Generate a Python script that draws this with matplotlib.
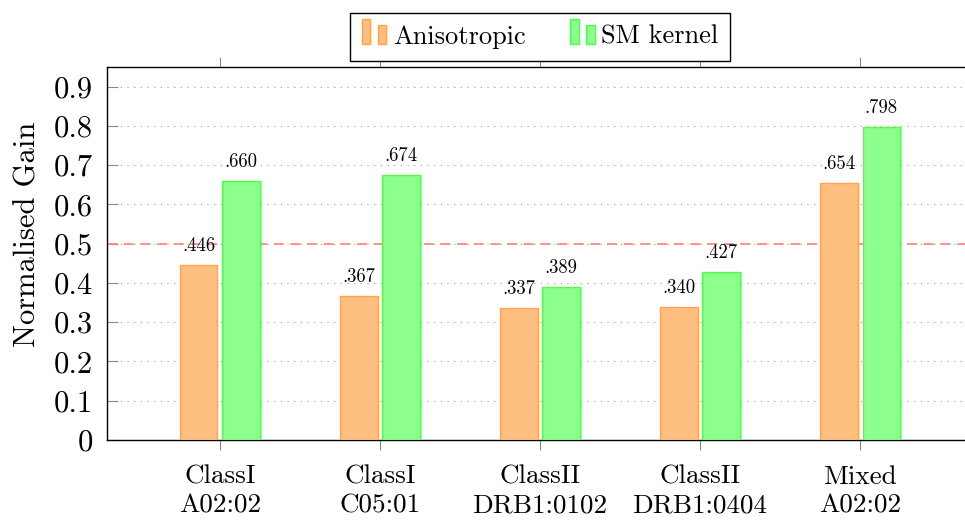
import matplotlib
matplotlib.use("Agg")
import matplotlib.pyplot as plt
import numpy as np
from matplotlib.container import BarContainer
from matplotlib.legend_handler import HandlerBase
from matplotlib.patches import Rectangle

plt.rcParams["font.family"] = "serif"
plt.rcParams["font.serif"] = ["cmr10"]
plt.rcParams["mathtext.fontset"] = "cm"
plt.rcParams["axes.formatter.use_mathtext"] = True

categories = ["ClassI\nA02:02", "ClassI\nC05:01", "ClassII\nDRB1:0102",
              "ClassII\nDRB1:0404", "Mixed\nA02:02"]
anisotropic = [0.446, 0.367, 0.337, 0.340, 0.654]
sm_kernel = [0.660, 0.674, 0.389, 0.427, 0.798]
yticks = [0, 0.1, 0.2, 0.3, 0.4, 0.5, 0.6, 0.7, 0.8, 0.9]
threshold = 0.5

orange_fc, orange_ec = "#ffbf80", "#ffa54f"
green_fc, green_ec = "#8cff8c", "#4dff4d"


class TwoBars(HandlerBase):
    # pgfplots-style ybar legend image: a tall bar and a short bar
    def create_artists(self, legend, orig_handle, xdescent, ydescent,
                       width, height, fontsize, trans):
        p = orig_handle.patches[0]
        fc, ec = p.get_facecolor(), p.get_edgecolor()
        w = width * 0.35
        x0, y0 = -xdescent, -ydescent
        r1 = Rectangle((x0, y0), w, height * 1.35, facecolor=fc,
                       edgecolor=ec, lw=1, transform=trans)
        r2 = Rectangle((x0 + width * 0.66, y0), w, height, facecolor=fc,
                       edgecolor=ec, lw=1, transform=trans)
        return [r1, r2]


fig = plt.figure(figsize=(9.65, 5.22), dpi=100)
ax = fig.add_axes([107 / 965, 1 - 440 / 522, 866 / 965, 373 / 522])

x = np.arange(len(categories))
off, bw = 0.133, 0.235
b1 = ax.bar(x - off, anisotropic, bw, color=orange_fc, edgecolor=orange_ec,
            lw=1, zorder=3, label="Anisotropic")
b2 = ax.bar(x + off, sm_kernel, bw, color=green_fc, edgecolor=green_ec,
            lw=1, zorder=3, label="SM kernel")

for bars, vals in ((b1, anisotropic), (b2, sm_kernel)):
    for rect, v in zip(bars, vals):
        ax.annotate(f"{v:.3f}".lstrip("0"),
                    (rect.get_x() + rect.get_width() / 2, v),
                    xytext=(0, 10), textcoords="offset points",
                    ha="center", va="baseline", fontsize=13.5, zorder=4)

ax.axhline(threshold, color="#ff7f7f", lw=1.2, dashes=(6, 4), zorder=1)

ax.set_xlim(-0.706, 4.706)
ax.set_ylim(0, 0.95)
ax.set_yticks(yticks)
ax.set_yticklabels(["0"] + [f"{t:.1f}" for t in yticks[1:]])
ax.set_xticks(x)
ax.set_xticklabels(categories, linespacing=1.25)
ax.yaxis.grid(True, color="#999999", lw=0.8, dashes=(1, 5), zorder=0)
ax.set_axisbelow(True)

ax.tick_params(axis="y", direction="in", length=8, color="#888888",
               labelsize=22, pad=10)
ax.tick_params(axis="x", direction="out", length=7, color="#888888",
               labelsize=19.5, pad=11, top=True)
ax.set_ylabel("Normalised Gain", fontsize=22)
ax.yaxis.set_label_coords(-0.076, 0.55)
for s in ax.spines.values():
    s.set_linewidth(1.0)
ax.spines["right"].set_visible(False)

ax.legend(handles=[b1, b2], handler_map={BarContainer: TwoBars()},
          loc="lower center", bbox_to_anchor=(0.5, 1.017), ncol=2,
          fontsize=19, frameon=True, fancybox=False, edgecolor="black",
          framealpha=1, handlelength=0.92, handleheight=0.7,
          handletextpad=0.25, columnspacing=1.7, borderpad=0.45,
          borderaxespad=0)

fig.savefig("out.png", dpi=100)
